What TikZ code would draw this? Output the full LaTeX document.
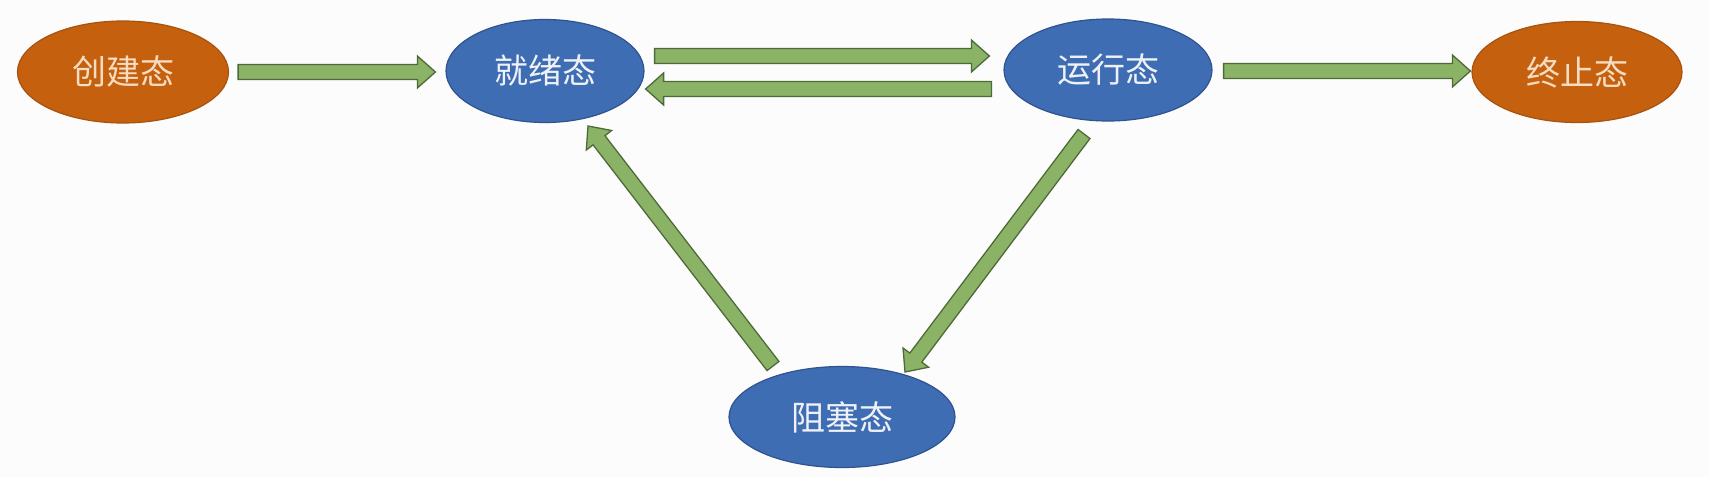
\documentclass[tikz,border=0pt]{standalone}
\usepackage{fontspec}
\newfontfamily\cjk{Noto Sans CJK SC}
\usetikzlibrary{calc,shapes.geometric}
\definecolor{bgc}{HTML}{FBFCFB}
\definecolor{bluefill}{HTML}{3F6DB3}
\definecolor{blueline}{HTML}{2E538F}
\definecolor{orangefill}{HTML}{C5600F}
\definecolor{orangeline}{HTML}{A9520E}
\definecolor{greenfill}{HTML}{8BB366}
\definecolor{greenline}{HTML}{4E6A3A}
\definecolor{bluetext}{HTML}{EEF2F8}
\definecolor{orangetext}{HTML}{F6DCC0}
\tikzset{
  statebase/.style={ellipse, inner sep=0pt, line width=1.2pt,
    font=\cjk\fontsize{34}{36}\selectfont},
  bluestate/.style={statebase, fill=bluefill, draw=blueline, text=bluetext},
  orangestate/.style={statebase, fill=orangefill, draw=orangeline, text=orangetext},
  blockarrowstyle/.style={fill=greenfill, draw=greenline, line width=1.3pt, line join=miter},
}
\newcommand\blockarrow[2]{%
  \coordinate (ba-h) at ($(#2)!18pt!(#1)$);
  \draw[blockarrowstyle]
    ($(#1)!7.5pt!90:(#2)$) -- ($(ba-h)!7.5pt!-90:(#1)$) -- ($(ba-h)!16pt!-90:(#1)$)
    -- (#2) -- ($(ba-h)!16pt!90:(#1)$) -- ($(ba-h)!7.5pt!90:(#1)$)
    -- ($(#1)!7.5pt!-90:(#2)$) -- cycle;
}
\begin{document}
\begin{tikzpicture}[x=1pt,y=1pt]
\fill[bgc] (0,0) rectangle (1710,-477);
\useasboundingbox (0,0) rectangle (1710,-477);

\node[orangestate, minimum width=211pt, minimum height=102pt] (create) at (123,-72) {创建态};
\node[bluestate, minimum width=198pt, minimum height=103pt] (ready) at (545,-71) {就绪态};
\node[bluestate, minimum width=208pt, minimum height=102pt] (run) at (1108,-70) {运行态};
\node[orangestate, minimum width=210pt, minimum height=101pt] (term) at (1577,-72) {终止态};
\node[bluestate, minimum width=226pt, minimum height=101pt] (block) at (842,-417) {阻塞态};

% arrow end points
\coordinate (a1s) at ($(create.east)+(9,0)$);
\coordinate (a1e) at ($(ready.west)+(-10,-1)$);
\coordinate (a2s) at ($(ready.east)+(10,15)$);
\coordinate (a2e) at ($(run.west)+(-14,14)$);
\coordinate (a3s) at ($(run.west)+(-12,-19)$);
\coordinate (a3e) at ($(ready.east)+(1,-18)$);
\coordinate (a4s) at ($(run.east)+(11,-1)$);
\coordinate (a4e) at ($(term.west)+(-1,1)$);
\coordinate (a5s) at (1084,-134);
\coordinate (a5e) at (905,-372);
\coordinate (a6s) at (773,-366);
\coordinate (a6e) at (588,-126);

\blockarrow{a1s}{a1e}
\blockarrow{a2s}{a2e}
\blockarrow{a3s}{a3e}
\blockarrow{a4s}{a4e}
\blockarrow{a5s}{a5e}
\blockarrow{a6s}{a6e}
\end{tikzpicture}
\end{document}
